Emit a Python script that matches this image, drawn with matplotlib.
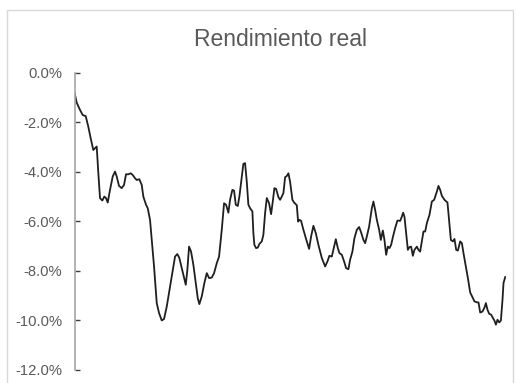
import matplotlib
matplotlib.use("Agg")
import matplotlib.pyplot as plt
from matplotlib.patches import Rectangle
from matplotlib.ticker import FuncFormatter, MultipleLocator

# Observation index (weeks) and real return (%)
periods = [
    0, 1, 2.65, 4, 5.5, 6.8, 8, 9.3, 10.15, 11, 11.8, 12.65, 13.8, 14.8, 15.65,
    16.5, 17.65, 19, 20.15, 21, 22.15, 23.5, 24.65, 25.65, 26.8, 28, 29, 30.15,
    31, 32.3, 33.5, 34.3, 35.65, 36.5, 37.65, 38.5, 39.65, 41, 42.15, 43.5,
    44.65, 46, 47.65, 49.3, 50.15, 51.3, 52.3, 53.5, 54.65, 55.5, 56.3, 57.15,
    58.15, 59.3, 60.5, 61.5, 62.3, 63.5, 64.8, 66, 67.15, 68.5, 69.65, 71,
    72.15, 73.5, 74.65, 75.65, 76.8, 77.65, 78.8, 79.65, 80.5, 81.5, 82.3,
    83.5, 84.3, 85.15, 86, 86.8, 87.65, 88.8, 89.3, 89.8, 90.65, 91.5, 92.3,
    93.5, 94.3, 95.15, 96, 97.15, 98.15, 99, 99.8, 100.65, 101.8, 102.65,
    103.5, 104.3, 105.15, 106, 106.8, 107.65, 108.8, 109.65, 111, 111.65,
    112.4, 113.15, 114.3, 116, 117.15, 118.15, 119.3, 120.5, 121.8, 123.5,
    125.15, 126.3, 127.3, 128.5, 129.65, 130.5, 131.5, 132.3, 133.5, 134.65,
    135.65, 136.8, 137.65, 138.8, 139.8, 141, 142.15, 143.15, 144.3, 145.15,
    146, 147.15, 148.5, 149.3, 150.15, 151, 152.15, 153, 154, 154.8, 155.65,
    156.5, 157.3, 158.15, 159, 160.15, 161.3, 162.65, 163.5, 164.15, 164.8,
    165.65, 166.5, 167.3, 168.15, 169, 169.8, 171, 171.8, 172.65, 173.5,
    174.3, 175.15, 176, 177.3, 178.5, 179.65, 181, 181.8, 182.65, 183.5,
    184.8, 186.3, 187.15, 188, 189, 189.8, 190.65, 191.5, 192.65, 193.5,
    194.3, 195.5, 196.5, 197.65, 198.8, 199.8, 201, 201.8, 202.65, 203.8,
    204.8, 205.5, 206.3, 207.15, 208.15, 209, 209.8, 210.5, 211.3, 212.15,
    213, 213.8, 214.3, 215.15,
]
real_return = [
    -0.83, -1.21, -1.50, -1.71, -1.75, -2.18, -2.65, -3.12, -3.05, -2.98,
    -4.04, -5.06, -5.16, -5.00, -5.06, -5.24, -4.73, -4.19, -3.99, -4.19,
    -4.57, -4.66, -4.53, -4.10, -4.10, -4.06, -4.13, -4.26, -4.33, -4.30,
    -4.53, -5.00, -5.33, -5.47, -5.94, -6.75, -7.82, -9.30, -9.70, -10.00,
    -9.94, -9.44, -8.63, -7.82, -7.42, -7.32, -7.48, -7.89, -8.29, -8.56,
    -7.96, -7.02, -7.22, -7.75, -8.49, -9.10, -9.34, -9.03, -8.49, -8.09,
    -8.29, -8.27, -8.09, -7.69, -7.42, -6.34, -5.27, -5.33, -5.65, -5.13,
    -4.73, -4.76, -5.33, -5.38, -5.00, -4.19, -3.68, -3.65, -4.40, -5.33,
    -5.47, -5.60, -6.48, -6.95, -7.08, -7.06, -6.91, -6.81, -6.54, -5.67,
    -5.06, -5.27, -5.71, -5.20, -4.66, -4.69, -5.02, -5.13, -5.00, -4.86,
    -4.22, -4.17, -4.06, -4.40, -5.13, -5.24, -5.35, -6.01, -5.94, -5.98,
    -6.34, -6.81, -7.11, -6.61, -6.18, -6.48, -6.95, -7.48, -7.82, -7.62,
    -7.39, -7.42, -7.02, -6.72, -7.08, -7.28, -7.35, -7.62, -7.89, -7.93,
    -7.55, -7.22, -6.68, -6.34, -6.23, -6.45, -6.75, -6.88, -6.61, -6.21,
    -5.47, -5.20, -5.54, -5.94, -6.34, -6.75, -6.37, -6.75, -7.35, -7.02,
    -7.08, -6.95, -6.64, -6.27, -5.97, -5.98, -5.81, -5.65, -5.81, -6.48,
    -7.15, -7.04, -7.02, -7.39, -7.15, -7.02, -7.15, -7.22, -6.81, -6.41,
    -6.41, -6.07, -5.74, -5.20, -5.13, -4.80, -4.57, -4.73, -4.97, -5.13,
    -5.24, -6.01, -6.75, -6.81, -6.71, -7.15, -7.18, -6.81, -6.88, -7.28,
    -7.82, -8.29, -8.87, -9.06, -9.23, -9.27, -9.27, -9.68, -9.64, -9.48,
    -9.30, -9.57, -9.73, -9.77, -9.90, -10.01, -10.17, -9.97, -10.08, -10.00,
    -9.17, -8.49, -8.25,
]

title_text = "Rendimiento real"
y_min, y_max, y_step = -12.0, 0.0, 2.0

narrow = ["Liberation Sans Narrow", "Liberation Sans", "DejaVu Sans"]

W, H = 516, 383
fig = plt.figure(figsize=(W / 100, H / 100), dpi=100)
fig.patch.set_facecolor("white")

# light chart-area border
fig.patches.append(Rectangle((7 / W, -0.01), 506 / W, (H - 10) / H + 0.01,
                             transform=fig.transFigure, fill=False,
                             edgecolor="#d9d9d9", linewidth=1.0))

ax = fig.add_axes([74.7 / W, 13 / H, 430.8 / W, 297.3 / H])
ax.plot(periods, real_return, color="#1f1f1f", linewidth=1.3,
        solid_joinstyle="round")

ax.set_xlim(0, 215.3)
ax.set_ylim(y_min, y_max)
ax.yaxis.set_major_locator(MultipleLocator(y_step))
ax.yaxis.set_major_formatter(FuncFormatter(lambda v, p: f"{v:.1f}%"))

for side in ("top", "right", "bottom"):
    ax.spines[side].set_visible(False)
ax.spines["left"].set_color("#a6a6a6")
ax.spines["left"].set_linewidth(1.2)
ax.set_xticks([])
ax.tick_params(axis="y", direction="in", length=3.5, width=1.0,
               color="#404040", pad=9, labelcolor="#595959")
for lbl in ax.get_yticklabels():
    lbl.set_fontfamily(narrow)
    lbl.set_fontsize(10.6)

fig.text(280 / W, (H - 46) / H, title_text, ha="center",
         va="baseline", fontsize=16.5, color="#595959", family=narrow)

fig.savefig("out.png", dpi=100, facecolor="white")
